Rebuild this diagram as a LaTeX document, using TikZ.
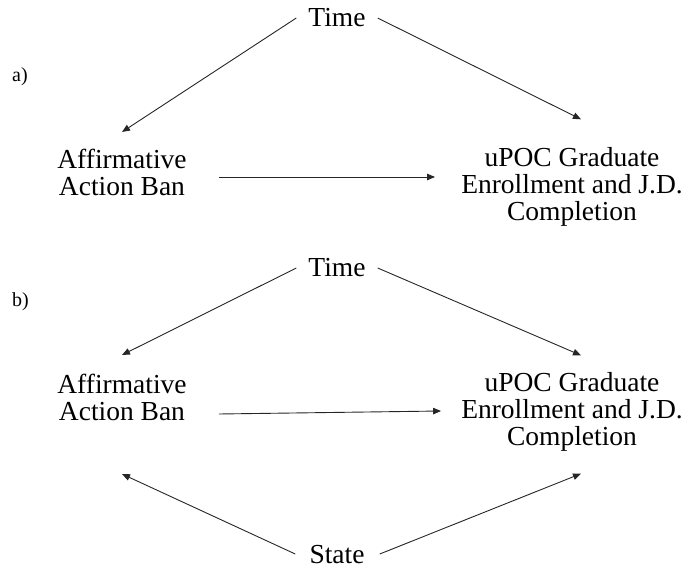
\documentclass[tikz,border=0pt]{standalone}
\usepackage{fontspec}
\setmainfont{Liberation Serif}
\usetikzlibrary{arrows.meta,calc}
\tikzset{
  lbl/.style={inner sep=0pt, font=\fontsize{27.5}{27}\selectfont, align=center},
  panel/.style={inner sep=0pt, font=\fontsize{20}{22}\selectfont, anchor=base west},
  arr/.style={draw=black!85, line width=0.9pt, -{Triangle[length=8pt,width=6.5pt]}}
}
\begin{document}
\begin{tikzpicture}[x=1pt,y=-1pt]
\useasboundingbox (0,0) rectangle (694,577);
% panel a
\node[panel] (labA) at (12,82) {a)};
\node[lbl, anchor=base] (timeA) at (337,27) {Time};
\node[lbl] (aabA) at (122,172.5) {Affirmative\\Action Ban};
\node[lbl] (upocA) at (572,187) {uPOC Graduate\\Enrollment and J.D.\\Completion};
\draw[arr] ([xshift=-12pt]timeA.west) -- ($(aabA.north)+(0pt,17pt)$);
\draw[arr] ([xshift=12pt]timeA.east) -- ($(upocA.north)+(9pt,28pt)$);
\draw[arr] ($(aabA.east)+(32pt,-4.5pt)$) -- ($(upocA.west |- aabA.east)+(-26pt,-4.5pt)$);
% panel b
\node[panel] (labB) at (12,307) {b)};
\node[lbl, anchor=base] (timeB) at (337,277) {Time};
\node[lbl] (aabB) at (122,397.5) {Affirmative\\Action Ban};
\node[lbl] (upocB) at (572,412) {uPOC Graduate\\Enrollment and J.D.\\Completion};
\node[lbl, anchor=base] (state) at (337,563) {State};
\draw[arr] ([xshift=-12pt]timeB.west) -- ($(aabB.north)+(0pt,19pt)$);
\draw[arr] ([xshift=12pt]timeB.east) -- ($(upocB.north)+(9pt,17pt)$);
\draw[arr] ($(aabB.east)+(32pt,-16.5pt)$) -- ($(upocB.west)+(-20pt,1pt)$);
\draw[arr] ([xshift=-14pt]state.west) -- ($(aabB.south)+(0pt,-53pt)$);
\draw[arr] ([xshift=15pt]state.east) -- ($(upocB.south)+(9pt,-22pt)$);
\end{tikzpicture}
\end{document}
